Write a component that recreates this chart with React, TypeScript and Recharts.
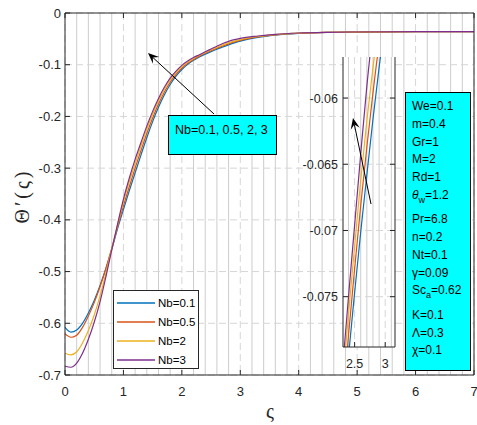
import React from "react";
import { LineChart, Line, XAxis, YAxis, CartesianGrid, Legend } from "recharts";

// similarity variable and the temperature-gradient profiles for each Nb
const zeta = [0, 0.1, 0.2, 0.3, 0.4, 0.5, 0.6, 0.7, 0.8, 0.9, 1.0, 1.1, 1.2, 1.3, 1.4, 1.5, 1.6, 1.7, 1.8, 1.9, 2.0, 2.1, 2.2, 2.3, 2.4, 2.5, 2.6, 2.7, 2.8, 2.9, 3.0, 3.3, 3.6, 4.0, 4.5, 5.0, 6.0, 7.0];
const nb01 = [-0.608, -0.617, -0.613, -0.6, -0.58, -0.556, -0.527, -0.494, -0.457, -0.417, -0.38, -0.344, -0.309, -0.2748, -0.2412, -0.2101, -0.1823, -0.1585, -0.1383, -0.122, -0.1093, -0.0993, -0.0915, -0.085, -0.0795, -0.0747, -0.0701, -0.0658, -0.0616, -0.0577, -0.0543, -0.047, -0.0427, -0.0395, -0.0376, -0.0369, -0.0362, -0.0361];
const nb05 = [-0.62, -0.627, -0.623, -0.608, -0.586, -0.56, -0.529, -0.494, -0.455, -0.414, -0.373, -0.336, -0.3, -0.266, -0.233, -0.203, -0.1762, -0.1532, -0.1339, -0.1186, -0.1066, -0.0972, -0.0897, -0.0834, -0.0779, -0.0729, -0.0681, -0.0637, -0.0596, -0.0559, -0.0528, -0.0462, -0.0422, -0.0392, -0.0375, -0.0368, -0.0362, -0.0361];
const nb2 = [-0.658, -0.661, -0.655, -0.638, -0.614, -0.584, -0.547, -0.503, -0.456, -0.41, -0.365, -0.3265, -0.2912, -0.2575, -0.2251, -0.1959, -0.1701, -0.1479, -0.1295, -0.1152, -0.1039, -0.095, -0.0878, -0.0817, -0.0763, -0.0712, -0.0662, -0.0617, -0.0577, -0.0543, -0.0515, -0.0455, -0.0418, -0.039, -0.0374, -0.0368, -0.0362, -0.0361];
const nb3 = [-0.683, -0.685, -0.677, -0.658, -0.631, -0.598, -0.558, -0.51, -0.458, -0.408, -0.36, -0.3195, -0.283, -0.2505, -0.2188, -0.1902, -0.1652, -0.1437, -0.126, -0.1124, -0.1012, -0.0929, -0.0862, -0.0806, -0.075, -0.0696, -0.0642, -0.0591, -0.0548, -0.0515, -0.049, -0.0445, -0.0412, -0.0387, -0.0373, -0.0367, -0.0362, -0.0361];

const series = [
  { key: "nb01", name: "Nb=0.1", color: "#0072BD", values: nb01 },
  { key: "nb05", name: "Nb=0.5", color: "#D95319", values: nb05 },
  { key: "nb2", name: "Nb=2", color: "#EDB120", values: nb2 },
  { key: "nb3", name: "Nb=3", color: "#7E2F8E", values: nb3 },
];

const xTicks = [0, 1, 2, 3, 4, 5, 6, 7];
const yTicks = [-0.7, -0.6, -0.5, -0.4, -0.3, -0.2, -0.1, 0];
const insetXTicks = [2.5, 3];
const insetXMinor = [2.4, 2.6, 2.7, 2.8, 2.9, 3.1];
const insetYTicks = [-0.075, -0.07, -0.065, -0.06];

const params = [
  { t: "We", v: "=0.1" },
  { t: "m", v: "=0.4" },
  { t: "Gr", v: "=1" },
  { t: "M", v: "=2" },
  { t: "Rd", v: "=1" },
  { t: "θ", sub: "w", v: "=1.2", italic: true },
  { t: "Pr", v: "=6.8" },
  { t: "n", v: "=0.2" },
  { t: "Nt", v: "=0.1" },
  { t: "γ", v: "=0.09" },
  { t: "Sc", sub: "a", v: "=0.62" },
  { t: "K", v: "=0.1" },
  { t: "Λ", v: "=0.3" },
  { t: "χ", v: "=0.1" },
];

const data = zeta.map((z, i) => {
  const row: Record<string, number> = { z };
  series.forEach((s) => (row[s.key] = s.values[i]));
  return row;
});

// minor vertical grid every 0.2 between the integer majors
const xMinor = Array.from({ length: 35 }, (_, i) => Math.round((i + 1) * 2) / 10).filter(
  (v) => Math.round(v * 10) % 10 !== 0
);

const SANS = '"Liberation Sans", Arial, Helvetica, sans-serif';
const SERIF = '"Liberation Serif", "Times New Roman", serif';
const AXIS = "#262626";
const TICK = 5;

const fmt = (v: number) => (v === 0 ? "0" : String(v));

// inward tick marks (MATLAB style) with labels outside
const bottomTick = (fs: number) => (p: any) => (
  <g>
    <line x1={p.x} y1={p.y} x2={p.x} y2={p.y - TICK} stroke={AXIS} />
    <text x={p.x} y={p.y + 21} textAnchor="middle" fontSize={fs} fill={AXIS} fontFamily={SANS}>
      {fmt(p.payload.value)}
    </text>
  </g>
);
const leftTick = (fs: number, gap: number) => (p: any) => (
  <g>
    <line x1={p.x} y1={p.y} x2={p.x + TICK} y2={p.y} stroke={AXIS} />
    <text x={p.x - gap} y={p.y + 4.5} textAnchor="end" fontSize={fs} fill={AXIS} fontFamily={SANS}>
      {fmt(p.payload.value)}
    </text>
  </g>
);
const topTick = (p: any) => <line x1={p.x} y1={p.y} x2={p.x} y2={p.y + TICK} stroke={AXIS} />;
const rightTick = (p: any) => <line x1={p.x} y1={p.y} x2={p.x - TICK} y2={p.y} stroke={AXIS} />;

const LegendBox = () => (
  <div
    style={{
      width: 86,
      height: 79,
      boxSizing: "border-box",
      border: `1px solid ${AXIS}`,
      background: "#fff",
      paddingTop: 2,
      fontFamily: SANS,
      fontSize: 11.5,
    }}
  >
    {series.map((s) => (
      <div key={s.key} style={{ display: "flex", alignItems: "center", height: 19.1 }}>
        <svg width={44} height={10}>
          <line x1={3} y1={5} x2={41} y2={5} stroke={s.color} strokeWidth={1.5} />
        </svg>
        <span style={{ color: "#000" }}>{s.name}</span>
      </div>
    ))}
  </div>
);

const Arrow = ({ from, to, size = 11 }: { from: number[]; to: number[]; size?: number }) => {
  const dx = to[0] - from[0];
  const dy = to[1] - from[1];
  const len = Math.hypot(dx, dy);
  const ux = dx / len;
  const uy = dy / len;
  const nx = -uy;
  const ny = ux;
  const bx = to[0] - ux * size;
  const by = to[1] - uy * size;
  const kx = to[0] - ux * size * 0.6;
  const ky = to[1] - uy * size * 0.6;
  const w = size * 0.42;
  return (
    <g>
      <line x1={from[0]} y1={from[1]} x2={kx} y2={ky} stroke="#000" strokeWidth={1} />
      <polygon
        points={`${to[0]},${to[1]} ${bx + nx * w},${by + ny * w} ${kx},${ky} ${bx - nx * w},${by - ny * w}`}
        fill="#000"
      />
    </g>
  );
};

export default function App() {
  return (
    <div style={{ position: "absolute", left: 0, top: 0, width: 477, height: 425, background: "#fff" }}>
      {/* main axes */}
      <LineChart width={477} height={425} data={data} margin={{ top: 0, right: 0, bottom: 0, left: 0 }}>
        <CartesianGrid verticalValues={xMinor} horizontal={false} stroke="#cdcdcd" />
        <CartesianGrid verticalValues={xTicks} horizontalValues={yTicks} stroke="#d6d6d6" strokeDasharray="7 4" />
        <XAxis
          dataKey="z"
          type="number"
          domain={[0, 7]}
          ticks={xTicks}
          interval={0}
          height={50}
          tickSize={0}
          tickMargin={0}
          tickLine={false}
          axisLine={{ stroke: AXIS }}
          tick={bottomTick(13)}
        />
        <XAxis
          xAxisId="top"
          orientation="top"
          dataKey="z"
          type="number"
          domain={[0, 7]}
          ticks={xTicks}
          interval={0}
          height={13}
          tickSize={0}
          tickMargin={0}
          tickLine={false}
          axisLine={{ stroke: AXIS }}
          tick={topTick}
        />
        <YAxis
          type="number"
          domain={[-0.7, 0]}
          ticks={yTicks}
          interval={0}
          width={65}
          tickSize={0}
          tickMargin={0}
          tickLine={false}
          axisLine={{ stroke: AXIS }}
          tick={leftTick(13, 4)}
        />
        <YAxis
          yAxisId="right"
          orientation="right"
          type="number"
          domain={[-0.7, 0]}
          ticks={yTicks}
          interval={0}
          width={3}
          tickSize={0}
          tickMargin={0}
          tickLine={false}
          axisLine={{ stroke: AXIS }}
          tick={rightTick}
        />
        {series.map((s) => (
          <Line
            key={s.key}
            dataKey={s.key}
            name={s.name}
            type="monotone"
            stroke={s.color}
            strokeWidth={1.2}
            dot={false}
            isAnimationActive={false}
          />
        ))}
        <Legend
          layout="vertical"
          align="center"
          verticalAlign="middle"
          wrapperStyle={{ left: 113, top: 290, width: 86, height: 79 }}
          content={() => <LegendBox />}
        />
      </LineChart>

      {/* zoomed inset */}
      <div style={{ position: "absolute", left: 285, top: 57 }}>
        <LineChart width={112} height={315} data={data} margin={{ top: 0, right: 0, bottom: 0, left: 0 }}>
          <CartesianGrid verticalValues={insetXMinor} horizontal={false} stroke="#cdcdcd" fill="#fff" />
          <CartesianGrid
            verticalValues={insetXTicks}
            horizontalValues={insetYTicks}
            stroke="#d6d6d6"
            strokeDasharray="7 4"
          />
          <XAxis
            dataKey="z"
            type="number"
            domain={[2.31, 3.16]}
            allowDataOverflow
            ticks={insetXTicks}
            interval={0}
            height={25}
            tickSize={0}
            tickMargin={0}
            tickLine={false}
            axisLine={{ stroke: AXIS }}
            tick={bottomTick(12.5)}
          />
          <XAxis
            xAxisId="top"
            orientation="top"
            dataKey="z"
            type="number"
            domain={[2.31, 3.16]}
            allowDataOverflow
            ticks={insetXTicks}
            interval={0}
            height={0}
            tickSize={0}
            tickMargin={0}
            tickLine={false}
            axisLine={{ stroke: AXIS }}
            tick={topTick}
          />
          <YAxis
            type="number"
            domain={[-0.0788, -0.0569]}
            allowDataOverflow
            ticks={insetYTicks}
            interval={0}
            width={58}
            tickSize={0}
            tickMargin={0}
            tickLine={false}
            axisLine={{ stroke: AXIS }}
            tick={leftTick(12.5, 5)}
          />
          <YAxis
            yAxisId="right"
            orientation="right"
            type="number"
            domain={[-0.0788, -0.0569]}
            allowDataOverflow
            ticks={insetYTicks}
            interval={0}
            width={2}
            tickSize={0}
            tickMargin={0}
            tickLine={false}
            axisLine={{ stroke: AXIS }}
            tick={rightTick}
          />
          {series.map((s) => (
            <Line
              key={s.key}
              dataKey={s.key}
              type="monotone"
              stroke={s.color}
              strokeWidth={1.2}
              dot={false}
              isAnimationActive={false}
            />
          ))}
        </LineChart>
      </div>

      {/* Nb annotation box */}
      <div
        style={{
          position: "absolute",
          left: 168,
          top: 115,
          width: 109,
          height: 40,
          boxSizing: "border-box",
          background: "#00FFFF",
          border: "1px solid #000",
          fontFamily: SANS,
          fontSize: 12.5,
          paddingLeft: 6,
          paddingTop: 7,
          color: "#000",
          whiteSpace: "nowrap",
        }}
      >
        Nb=0.1, 0.5, 2, 3
      </div>

      {/* parameter box */}
      <div
        style={{
          position: "absolute",
          left: 405,
          top: 92,
          width: 66,
          height: 279,
          boxSizing: "border-box",
          background: "#00FFFF",
          border: "1px solid #000",
          fontFamily: SANS,
          fontSize: 12,
          paddingLeft: 6,
          paddingTop: 5,
          color: "#000",
          whiteSpace: "nowrap",
        }}
      >
        {params.map((p, i) => (
          <div key={i} style={{ height: p.sub ? 24.3 : 17.8, lineHeight: "17.8px" }}>
            <span style={{ fontStyle: p.italic ? "italic" : "normal" }}>{p.t}</span>
            {p.sub && <span style={{ fontSize: 9, position: "relative", top: 4 }}>{p.sub}</span>}
            {p.v}
          </div>
        ))}
      </div>

      {/* arrows and axis titles */}
      <svg width={477} height={425} style={{ position: "absolute", left: 0, top: 0, pointerEvents: "none" }}>
        <Arrow from={[214, 114]} to={[148, 53]} />
        <Arrow from={[371, 204]} to={[353, 118]} />
        <text x={270} y={418} textAnchor="middle" fontSize={20} fontFamily={SERIF} fill={AXIS}>
          ς
        </text>
        <text
          x={0}
          y={0}
          transform="translate(29,196) rotate(-90)"
          textAnchor="middle"
          fontSize={20}
          letterSpacing={3}
          fontFamily={SERIF}
          fill={AXIS}
        >
          Θ′(ς)
        </text>
      </svg>
    </div>
  );
}
